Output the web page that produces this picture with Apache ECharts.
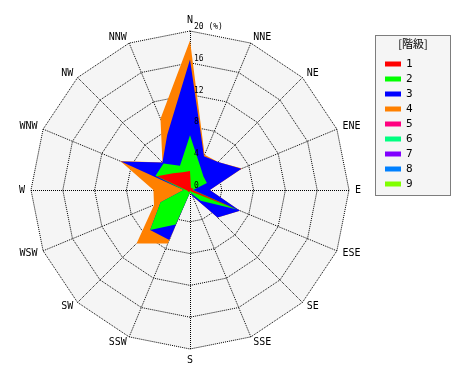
<!DOCTYPE html>
<html>
<head>
<meta charset="utf-8">
<script src="https://cdn.jsdelivr.net/npm/echarts@6/dist/echarts.min.js"></script>
<style>html,body{margin:0;padding:0;background:#fff}#c{width:470px;height:380px}</style>
</head>
<body>
<div id="c"></div>
<script>
// Directions in compass (clockwise) order
const directions = ['N','NNE','NE','ENE','E','ESE','SE','SSE','S','SSW','SW','WSW','W','WNW','NW','NNW'];
// Cumulative frequency (%) by class, compass order
const class1 = [2.4, 0.3, 0.3, 0.5, 0.3, 6.3, 0.3, 0.1, 0.1, 0.3, 0.3, 0.3, 0.5, 4.5, 3.0, 2.4];
const class2 = [6.9, 3.3, 2.4, 2.3, 0.4, 6.4, 1.9, 0.5, 0.3, 4.7, 7.1, 4.0, 0.8, 4.7, 4.7, 3.3];
const class3 = [16.4, 4.6, 5.0, 7.0, 2.5, 6.8, 4.9, 0.8, 0.3, 6.8, 7.1, 4.0, 0.8, 9.4, 4.9, 7.5];
const class4 = [18.8, 4.8, 5.0, 7.1, 2.5, 6.8, 4.9, 0.8, 0.3, 7.3, 9.5, 4.9, 4.6, 9.5, 4.9, 9.7];
const class5 = [0,0,0,0,0,0,0,0,0,0,0,0,0,0,0,0];
const class6 = [0,0,0,0,0,0,0,0,0,0,0,0,0,0,0,0];
const class7 = [0,0,0,0,0,0,0,0,0,0,0,0,0,0,0,0];
const class8 = [0,0,0,0,0,0,0,0,0,0,0,0,0,0,0,0];
const class9 = [0,0,0,0,0,0,0,0,0,0,0,0,0,0,0,0];
const classNames = ['1','2','3','4','5','6','7','8','9'];
const classColors = ['#ff0000','#00ff00','#0000ff','#ff8000','#ff0080','#00ff80','#8000ff','#0080ff','#80ff00'];
const rMax = 20;
const tickUnit = '(%)';

// ECharts radar lays indicators counter-clockwise; reorder so they run clockwise
const idxOrder = directions.map((d, i) => (16 - i) % 16);
const reorder = arr => idxOrder.map(i => arr[i]);

const allClasses = [class1, class2, class3, class4, class5, class6, class7, class8, class9];

const mono = 'DejaVu Sans Mono';
const indicator = idxOrder.map(i => ({ name: directions[i], min: 0, max: rMax }));
const labelIndicator = idxOrder.map((i, k) => {
  const ind = { name: directions[i], min: 0, max: rMax };
  if (k === 0) {
    ind.axisLabel = {
      show: true, fontSize: 8, fontFamily: mono, color: '#000',
      margin: -4, align: 'left', verticalAlign: 'bottom',
      formatter: v => v === rMax ? v + ' ' + tickUnit : String(v)
    };
  }
  return ind;
});

// draw from back (largest cumulative) to front
const drawOrder = [8,7,6,5,4,3,2,1,0];
const data = drawOrder.map(k => ({
  name: classNames[k],
  value: reorder(allClasses[k]),
  itemStyle: { color: classColors[k] },
  lineStyle: { width: 0, color: classColors[k] },
  areaStyle: { color: classColors[k], opacity: 1 }
}));

const dotted = { color: '#000', type: [1, 1], width: 1, cap: 'butt' };
const chart = echarts.init(document.getElementById('c'), null, { renderer: 'canvas' });
chart.setOption({
  animation: false,
  backgroundColor: '#fff',
  radar: [{
    center: [190, 190],
    radius: 159,
    startAngle: 90,
    splitNumber: 5,
    shape: 'polygon',
    indicator: indicator,
    nameGap: 6,
    axisName: { color: '#000', fontFamily: mono, fontSize: 10 },
    splitLine: { lineStyle: dotted },
    splitArea: { areaStyle: { color: ['#f5f5f5'] } },
    axisLine: { lineStyle: dotted },
    axisTick: { show: false },
    axisLabel: { show: false }
  }, {
    z: 10,
    center: [190, 190],
    radius: 159,
    startAngle: 90,
    splitNumber: 5,
    shape: 'polygon',
    indicator: labelIndicator,
    axisName: { show: false },
    splitLine: { show: false },
    splitArea: { show: false },
    axisLine: { show: false },
    axisTick: { show: false },
    axisLabel: { show: false }
  }],
  legend: {
    orient: 'vertical',
    left: 380,
    top: 53,
    itemWidth: 16,
    itemHeight: 5,
    itemGap: 3,
    icon: 'rect',
    selectedMode: false,
    data: classNames,
    textStyle: { fontSize: 11, fontFamily: mono, color: '#000', lineHeight: 12 }
  },
  graphic: [
    { type: 'rect', z: 0, shape: { x: 375.5, y: 35.5, width: 75, height: 160 },
      style: { fill: '#f5f5f5', stroke: '#000', lineWidth: 1, lineDash: [1, 1] } },
    { type: 'text', z: 1, x: 413, y: 44,
      style: { text: '[階級]', fontSize: 11, fontFamily: 'Noto Sans CJK JP', fill: '#000', align: 'center', verticalAlign: 'middle' } }
  ],
  series: [{
    type: 'radar',
    radarIndex: 0,
    symbol: 'none',
    silent: true,
    data: data
  }]
});
</script>
</body>
</html>
